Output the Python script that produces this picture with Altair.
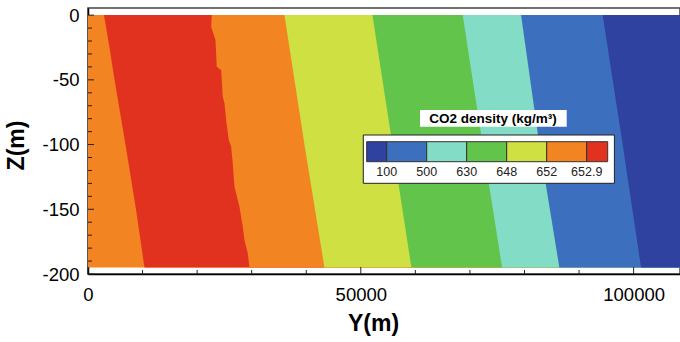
import altair as alt
import pandas as pd

FONT = "Liberation Sans"

# Density classes from low to high, with the class breaks shown in the key
CLASS_COLORS = ["#2f42a0", "#3d6fbf", "#82dcc6", "#62c44b", "#cfe043", "#f28421", "#e1321f"]
CLASS_BREAKS = ["100", "500", "630", "648", "652", "652.9"]
LEGEND_TITLE = "CO2 density (kg/m\u00b3)"

# Section extent
Y_MAX = 108500
Z_DOMAIN = [-200, 5.5]
Z_BOTTOM = -195

# Class boundaries, left to right: depth samples (m) and horizontal position Y (m)
edge_base_z = [0, Z_BOTTOM]
edge_base_y = [0, 0]

edge_red_z = [0, -25, -50, -100, -150, -195]
edge_red_y = [2930, 3940, 4860, 6870, 8790, 10350]

edge_orange_z = [0, -9, -12.8, -19.2, -39.9, -42.4, -63, -68.1, -81, -96.5,
                 -101.7, -114.5, -132.6, -148, -163.5, -173.7, -184, -195]
edge_orange_y = [22680, 22570, 22870, 23360, 23600, 24400, 24700, 25010, 25320, 25800,
                 26240, 26530, 26840, 27760, 28360, 28670, 29280, 29590]

edge_yellow_z = [0, -100, -195]
edge_yellow_y = [36000, 39670, 43330]

edge_green_z = [0, -100, -195]
edge_green_y = [52130, 55790, 59270]

edge_cyan_z = [0, -100, -195]
edge_cyan_y = [68670, 72330, 75890]

edge_blue_z = [0, -100, -195]
edge_blue_y = [79370, 82720, 86390]

edge_dark_z = [0, -100, -195]
edge_dark_y = [94320, 97990, 101360]

# each band fills from its left edge to the right end of the section
bands = [
    (edge_base_z, edge_base_y, CLASS_COLORS[5]),
    (edge_red_z, edge_red_y, CLASS_COLORS[6]),
    (edge_orange_z, edge_orange_y, CLASS_COLORS[5]),
    (edge_yellow_z, edge_yellow_y, CLASS_COLORS[4]),
    (edge_green_z, edge_green_y, CLASS_COLORS[3]),
    (edge_cyan_z, edge_cyan_y, CLASS_COLORS[2]),
    (edge_blue_z, edge_blue_y, CLASS_COLORS[1]),
    (edge_dark_z, edge_dark_y, CLASS_COLORS[0]),
]

W, H = 592, 266

x_scale = alt.Scale(domain=[0, Y_MAX], nice=False, zero=False)
y_scale = alt.Scale(domain=Z_DOMAIN, nice=False, zero=False)

x_axis = alt.Axis(
    values=[0, 50000, 100000], labelExpr="datum.value + ''", title="Y(m)",
    ticks=False, grid=False, labelFlush=False, labelOverlap=False,
    labelFont=FONT, labelFontSize=18.5, labelColor="black", labelPadding=11,
    domainColor="black", domainWidth=1.5,
    titleFont=FONT, titleFontSize=23, titleFontWeight="bold", titleColor="black",
    titleX=285, titleY=49, titleBaseline="middle",
)
y_axis = alt.Axis(
    values=[-200, -150, -100, -50, 0], labelExpr="datum.value + ''", title="Z(m)",
    ticks=False, grid=False, labelFlush=False, labelOverlap=False,
    labelFont=FONT, labelFontSize=18.5, labelColor="black", labelPadding=9,
    domainColor="black", domainWidth=1.5,
    titleFont=FONT, titleFontSize=23, titleFontWeight="bold", titleColor="black",
    titleX=-72, titleY=137, titleBaseline="middle",
)

layers = []
for z, y, color in bands:
    df = pd.DataFrame({"z": z, "y": y, "r": [Y_MAX] * len(z)})
    layers.append(
        alt.Chart(df).mark_area(orient="horizontal", color=color, opacity=1).encode(
            y=alt.Y("z:Q", scale=y_scale, axis=y_axis),
            x=alt.X("y:Q", scale=x_scale, axis=x_axis, stack=None),
            x2="r:Q",
        )
    )

# inward tick marks
z_major = list(range(-200, 1, 50))
z_minor = [v for v in range(-200, 1, 10) if v not in z_major]
y_major = [0, 50000, 100000]
y_minor = [v for v in range(0, Y_MAX, 10000) if v not in y_major]

def z_ticks(vals, length):
    return alt.Chart(pd.DataFrame({"v": vals})).mark_rule(color="#222", strokeWidth=1).encode(
        y=alt.Y("v:Q", scale=y_scale, axis=y_axis), x=alt.value(0), x2=alt.value(length))

def y_ticks(vals, length):
    return alt.Chart(pd.DataFrame({"v": vals})).mark_rule(color="#222", strokeWidth=1).encode(
        x=alt.X("v:Q", scale=x_scale, axis=x_axis), y=alt.value(H), y2=alt.value(H - length))

layers += [z_ticks(z_major, 6), z_ticks(z_minor, 4), y_ticks(y_major, 7), y_ticks(y_minor, 4)]

# colour key, laid out in pixels inside the plot
KEY_X0, KEY_Y0, KEY_Y1 = 278.7, 133.7, 153.7
CELL = 40
edges = [KEY_X0, KEY_X0 + CELL / 2]
for _ in range(len(CLASS_COLORS) - 2):
    edges.append(edges[-1] + CELL)
edges.append(edges[-1] + CELL / 2 + 1)

one = pd.DataFrame({"a": [0]})
key_frame = alt.Chart(one).mark_rect(fill="white", stroke="#222", strokeWidth=1).encode(
    x=alt.value(edges[0] - 3.4), x2=alt.value(edges[-1] + 6.7),
    y=alt.value(KEY_Y0 - 6.7), y2=alt.value(KEY_Y1 + 21.6))
key_cells = alt.Chart(pd.DataFrame({"x0": edges[:-1], "x1": edges[1:], "c": CLASS_COLORS})).mark_rect(
    stroke="#333", strokeWidth=1).encode(
    x=alt.X("x0:Q", scale=None), x2="x1:Q",
    y=alt.value(KEY_Y0), y2=alt.value(KEY_Y1),
    color=alt.Color("c:N", scale=None))
key_labels = alt.Chart(pd.DataFrame({"x": edges[1:-1], "t": CLASS_BREAKS})).mark_text(
    font=FONT, fontSize=12.5, color="#222", baseline="middle", align="center").encode(
    x=alt.X("x:Q", scale=None), y=alt.value(KEY_Y1 + 10), text="t:N")
title_box = alt.Chart(one).mark_rect(fill="white").encode(
    x=alt.value(332), x2=alt.value(478.7), y=alt.value(102), y2=alt.value(118.7))
title_text = alt.Chart(one).mark_text(
    text=LEGEND_TITLE, font=FONT, fontSize=13.5, fontWeight="bold", color="black",
    align="center", baseline="middle").encode(x=alt.value(405), y=alt.value(110.5))

layers += [key_frame, key_cells, key_labels, title_box, title_text]

chart = alt.layer(*layers).properties(
    width=W, height=H,
    padding={"left": 88, "top": 8, "right": 0, "bottom": 68},
    autosize=alt.AutoSizeParams(type="none"),
    background="white",
).configure_view(stroke="#444", strokeWidth=1.5)

chart.save("out.html", embed_options={"renderer": "svg", "actions": False})
